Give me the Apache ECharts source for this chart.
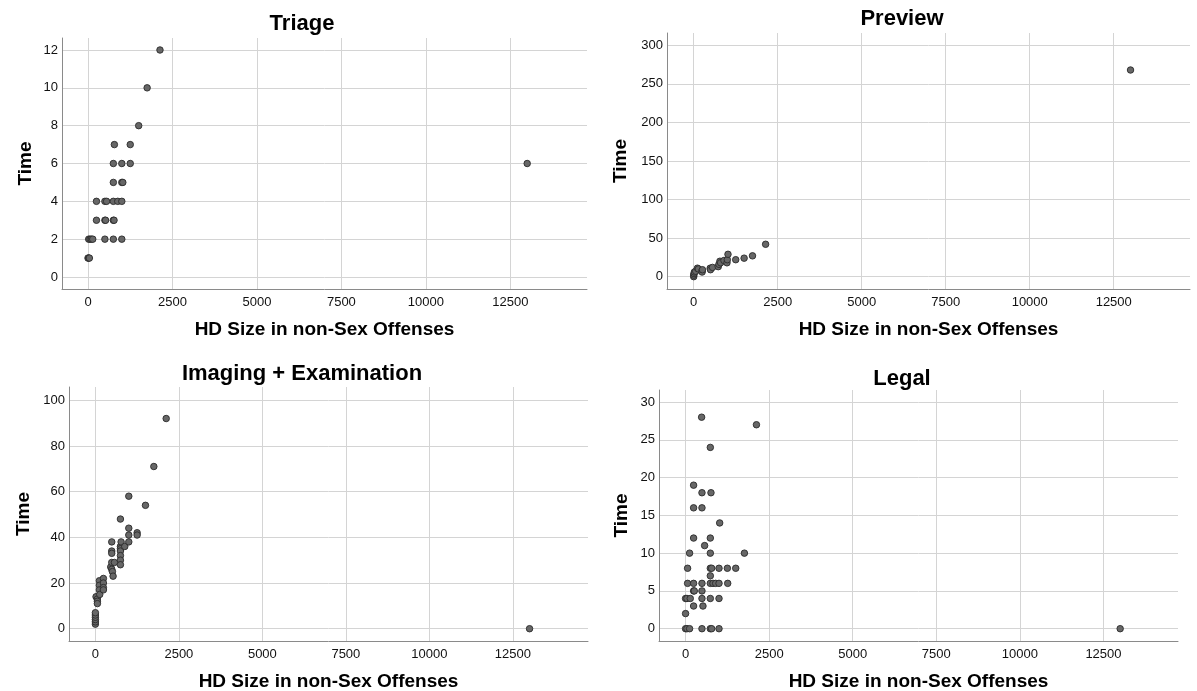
<!DOCTYPE html>
<html>
<head>
<meta charset="utf-8">
<script src="https://cdn.jsdelivr.net/npm/echarts@6/dist/echarts.min.js"></script>
<style>
html,body{margin:0;padding:0;background:#fff;}
#c{width:1197px;height:691px;}
</style>
</head>
<body>
<div id="c"></div>
<script>
// ---- data ----
const panelTitles = ['Triage', 'Preview', 'Imaging + Examination', 'Legal'];
const xAxisName = 'HD Size in non-Sex Offenses';
const yAxisName = 'Time';
const xTicks = [0, 2500, 5000, 7500, 10000, 12500];
const triageTicks = [0, 2, 4, 6, 8, 10, 12];
const previewTicks = [0, 50, 100, 150, 200, 250, 300];
const imagingTicks = [0, 20, 40, 60, 80, 100];
const legalTicks = [0, 5, 10, 15, 20, 25, 30];

const triageX = [2130, 1750, 1500, 780, 1250, 750, 1000, 1250, 750, 1000, 1030, 250, 500, 550, 750, 880, 1000, 250, 500, 520, 750, 770, 20, 60, 100, 140, 500, 750, 1000, 0, 20, 40, 13000];
const triageY = [12, 10, 8, 7, 7, 6, 6, 6, 5, 5, 5, 4, 4, 4, 4, 4, 4, 3, 3, 3, 3, 3, 2, 2, 2, 2, 2, 2, 2, 1, 1, 1, 6];

const previewX = [0, 0, 10, 20, 60, 110, 140, 250, 250, 260, 490, 500, 560, 730, 750, 780, 800, 900, 990, 1000, 1020, 1250, 1500, 1750, 2140, 13000];
const previewY = [0, 2, 4, 6, 7, 11, 10, 8, 6, 9, 11, 9, 12, 13, 16, 20, 18, 21, 18, 22, 29, 22, 24, 27, 42, 268];

const imagingX = [0, 0, 0, 0, 0, 0, 20, 60, 60, 60, 120, 120, 120, 130, 240, 240, 240, 240, 460, 490, 490, 490, 490, 490, 510, 530, 570, 750, 750, 750, 750, 750, 750, 750, 770, 880, 1000, 1000, 1000, 1000, 1250, 1250, 1500, 1750, 2120, 13000];
const imagingY = [2, 3, 4, 5, 6, 7, 14, 13, 12, 11, 21, 19, 17, 15, 22, 20, 18, 17, 27, 38, 34, 33, 29, 26, 25, 23, 29, 48, 36, 35, 34, 32, 30, 28, 38, 36, 58, 44, 41, 38, 42, 41, 54, 71, 92, 0];

const legalX = [480, 2120, 740, 240, 490, 760, 240, 490, 1020, 240, 740, 570, 120, 740, 1760, 60, 740, 780, 1000, 1250, 1500, 740, 60, 240, 490, 740, 820, 900, 1000, 1260, 240, 260, 490, 0, 40, 140, 490, 740, 1000, 240, 520, 0, 0, 40, 120, 490, 740, 780, 1000, 13000];
const legalY = [28, 27, 24, 19, 18, 18, 16, 16, 14, 12, 12, 11, 10, 10, 10, 8, 8, 8, 8, 8, 8, 7, 6, 6, 6, 6, 6, 6, 6, 6, 5, 5, 5, 4, 4, 4, 4, 4, 4, 3, 3, 2, 0, 0, 0, 0, 0, 0, 0, 0];

// ---- layout ----
const grids = [
  {left: 62, top: 38, width: 525, height: 251},
  {left: 667, top: 33, width: 523, height: 256},
  {left: 69, top: 387, width: 519, height: 254},
  {left: 659, top: 390, width: 519, height: 251}
];
const xRanges = [[-770, 14770], [-795, 14770], [-790, 14750], [-795, 14730]];
const yRanges = [[-0.634, 12.634], [-16, 316], [-5.38, 105.8], [-1.63, 31.6]];
const yTickSets = [triageTicks, previewTicks, imagingTicks, legalTicks];
const yStep = [2, 50, 20, 5];
const xStep = 2500;
const yNameGaps = [27, 37, 36, 28];
const titleCenters = [[297, 8], [897, 3], [297, 358], [897, 363]];
const seriesXY = [[triageX, triageY], [previewX, previewY], [imagingX, imagingY], [legalX, legalY]];

const FONT = '"Liberation Sans", Arial, sans-serif';
const gridColor = '#d4d4d4';
const axisColor = '#8a8a8a';
const plain = v => String(Math.round(v));

const option = {
  backgroundColor: '#ffffff',
  animation: false,
  title: panelTitles.map((t, i) => ({
    text: t,
    left: titleCenters[i][0], top: titleCenters[i][1],
    textAlign: 'center',
    textStyle: {fontFamily: FONT, fontSize: 22, fontWeight: 'bold', color: '#000'}
  })),
  grid: grids.map(g => Object.assign({containLabel: false, outerBoundsMode: 'none'}, g)),
  xAxis: grids.map((g, i) => ({
    type: 'value', gridIndex: i,
    min: xRanges[i][0], max: xRanges[i][1],
    minInterval: xStep, maxInterval: xStep,
    name: xAxisName, nameLocation: 'middle', nameGap: 31,
    nameTextStyle: {fontFamily: FONT, fontSize: 19, fontWeight: 'bold', color: '#000'},
    axisLine: {show: true, onZero: false, lineStyle: {color: axisColor, width: 1}},
    axisTick: {show: false},
    axisLabel: {customValues: xTicks, formatter: plain, margin: 7, fontFamily: FONT, fontSize: 13, color: '#111'},
    splitLine: {show: true, showMinLine: false, showMaxLine: false, lineStyle: {color: gridColor, width: 1}}
  })),
  yAxis: grids.map((g, i) => ({
    type: 'value', gridIndex: i,
    min: yRanges[i][0], max: yRanges[i][1],
    minInterval: yStep[i], maxInterval: yStep[i],
    name: yAxisName, nameLocation: 'middle', nameGap: yNameGaps[i], nameRotate: 90,
    nameTextStyle: {fontFamily: FONT, fontSize: 19, fontWeight: 'bold', color: '#000'},
    axisLine: {show: true, onZero: false, lineStyle: {color: axisColor, width: 1}},
    axisTick: {show: false},
    axisLabel: {customValues: yTickSets[i], formatter: plain, margin: 4, fontFamily: FONT, fontSize: 13, color: '#111'},
    splitLine: {show: true, showMinLine: false, showMaxLine: false, lineStyle: {color: gridColor, width: 1}}
  })),
  series: seriesXY.map((xy, i) => ({
    type: 'scatter', xAxisIndex: i, yAxisIndex: i,
    symbol: 'circle', symbolSize: 6.5,
    itemStyle: {color: '#676767', borderColor: '#2a2a2a', borderWidth: 0.9, opacity: 1},
    data: xy[0].map((x, k) => [x, xy[1][k]])
  }))
};

const chart = echarts.init(document.getElementById('c'), null, {renderer: 'canvas'});
chart.setOption(option);
</script>
</body>
</html>
